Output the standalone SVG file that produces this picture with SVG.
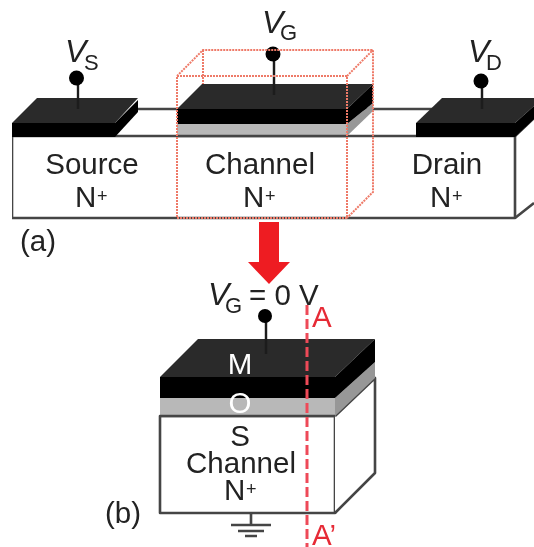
<svg xmlns="http://www.w3.org/2000/svg" width="534" height="547" viewBox="0 0 534 547">
<style>
text{font-family:"Liberation Sans",Arial,sans-serif;fill:#222;font-size:29.5px}
.m{text-anchor:middle}
.i{font-style:italic;font-size:32px}
.sub{font-size:22px}
.sup{font-size:18px}
.w{fill:#fff}
.r{fill:#e62a36}
.body{fill:#fff;stroke:#444;stroke-width:2.6;stroke-linejoin:round}
.ln{fill:none;stroke:#444;stroke-width:2.6}
.top{fill:#2b2b2b}
.front{fill:#000}
.gr{fill:#b8b8b8}
.grs{fill:#979797}
.pin{fill:none;stroke:#1a1a1a;stroke-width:2.4}
.dot{fill:#000}
.box{fill:none;stroke:#ee7a68;stroke-width:2;stroke-dasharray:2 1}
</style>
<defs><filter id="soft" x="0" y="0" width="100%" height="100%"><feGaussianBlur stdDeviation="0.45"/></filter></defs>
<g filter="url(#soft)">
<g id="device-a-body">
<path class="ln" d="M138 109H440"/>
<path class="body" d="M12 136H515V218H12Z"/>
<path class="body" d="M515 136L534 118M515 218L534 203"/>
</g>
<g id="source-contact">
<path class="top" d="M12 123L37 98H138L115 123Z"/>
<path class="front" d="M12 123H115V137H12Z"/>
<path class="front" d="M115 123L138 100V112L115 137Z"/>
<path class="pin" d="M78 82V109"/>
<circle class="dot" cx="76.500" cy="78" r="7.500"/>
<text class="i" x="65" y="62">V</text><text class="sub" x="84" y="70">S</text>
<text class="m" x="92" y="174">Source</text>
<text x="75" y="207">N</text><text class="sup" x="97" y="202">+</text>
</g>
<g id="channel-gate">
<path class="gr" d="M177 124H347V136H177Z"/>
<path class="grs" d="M347 124L373 103V111L347 136Z"/>
<path class="top" d="M177 109L202 84H373L347 109Z"/>
<path class="front" d="M177 109H347V124H177Z"/>
<path class="front" d="M347 109L373 84V103L347 124Z"/>
<path class="ln" d="M177 136H347"/>
<path class="pin" d="M274 56V95"/>
<circle class="dot" cx="273" cy="54" r="7.500"/>
<text class="i" x="262" y="33">V</text><text class="sub" x="280" y="40">G</text>
<text class="m" x="260" y="174">Channel</text>
<text x="243" y="207">N</text><text class="sup" x="265" y="202">+</text>
</g>
<g id="drain-contact">
<path class="top" d="M416 123L442 98H534V106L515 123Z"/>
<path class="front" d="M416 123H515V137H416Z"/>
<path class="front" d="M515 123L534 106V119L515 137Z"/>
<path class="pin" d="M482 84V109"/>
<circle class="dot" cx="481" cy="81" r="7.500"/>
<text class="i" x="468" y="62">V</text><text class="sub" x="486" y="70">D</text>
<text class="m" x="447" y="174">Drain</text>
<text x="430" y="207">N</text><text class="sup" x="452" y="202">+</text>
</g>
<g id="red-box">
<path class="box" d="M177 76H347V218H177ZM177 76L203 50H373V192L347 218M347 76L373 50M203 50V84"/>
</g>
<text id="label-a" x="20" y="251">(a)</text>
<g id="arrow"><path fill="#ee1c24" d="M259 222H279V262H290L269 284L248 262H259Z"/></g>
<g id="device-b">
<path class="body" d="M160 416H335V513H160Z"/>
<path class="body" d="M335 416L375 378V473L335 513"/>
<path class="gr" d="M160 398H335V416H160Z"/>
<path class="grs" d="M335 398L375 362V378L335 416Z"/>
<path class="top" d="M160 377L198 339H375L335 377Z"/>
<path class="front" d="M160 377H335V398H160Z"/>
<path class="front" d="M335 377L375 339V362L335 398Z"/>
<path class="ln" d="M160 416H335"/>
<path class="pin" d="M266 318V354"/>
<circle class="dot" cx="265" cy="316" r="7"/>
<text class="i" x="208" y="305">V</text><text class="sub" x="225" y="313">G</text>
<text x="249" y="305">= 0 V</text>
<text class="m w" x="240" y="374">M</text>
<text class="m w" x="240" y="413">O</text>
<text class="m" x="240" y="446">S</text>
<text class="m" x="241" y="473">Channel</text>
<text x="224" y="500">N</text><text class="sup" x="246" y="495">+</text>
<text x="105" y="523">(b)</text>
</g>
<g id="ground">
<path class="ln" d="M251 513V525M231 525H271M238 531H264M245 536H257"/>
</g>
<g id="section-line">
<path fill="none" stroke="#ee4a58" stroke-width="3" stroke-dasharray="10 4" d="M307 305V547"/>
<text class="r" x="312" y="327">A</text>
<text class="r" x="312" y="545">A’</text>
</g>
</g>
</svg>
